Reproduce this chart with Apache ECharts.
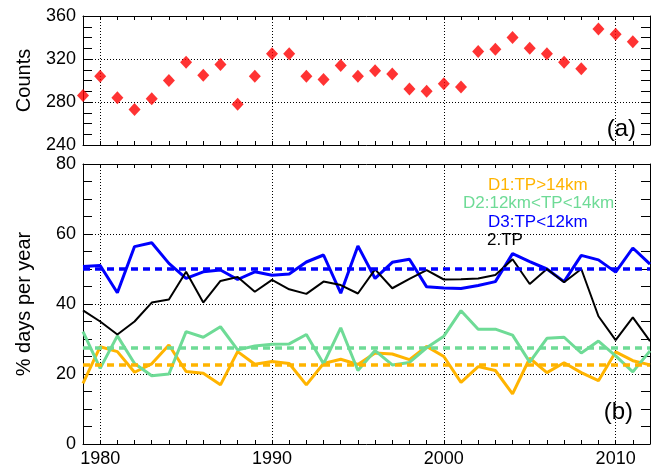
<!DOCTYPE html>
<html>
<head>
<meta charset="utf-8">
<script src="https://cdn.jsdelivr.net/npm/echarts@6/dist/echarts.min.js"></script>
<style>
  html, body { margin: 0; padding: 0; background: #fff; }
  #chart { width: 654px; height: 468px; }
</style>
</head>
<body>
<div id="chart"></div>
<script>
// Years on the shared time axis
const years = [1979, 1980, 1981, 1982, 1983, 1984, 1985, 1986, 1987, 1988,
               1989, 1990, 1991, 1992, 1993, 1994, 1995, 1996, 1997, 1998,
               1999, 2000, 2001, 2002, 2003, 2004, 2005, 2006, 2007, 2008,
               2009, 2010, 2011, 2012];

// Panel (a): yearly counts (no value for 2012)
const counts = [286, 304, 284, 273, 283, 300, 317, 305, 315, 278,
                304, 325, 325, 304, 301, 314, 304, 309, 306, 292,
                290, 297, 294, 327, 329, 340, 330, 325, 317, 311,
                348, 343, 336, null];

// Panel (b): percentage of days per year
const d1 = [17.3, 27.8, 26.4, 20.5, 22.9, 28.3, 20.7, 20.2, 16.9, 26.4,
            22.8, 23.6, 23.0, 16.9, 23.0, 24.2, 22.7, 26.0, 25.7, 24.1,
            27.9, 25.0, 17.6, 22.1, 21.0, 14.3, 24.5, 20.4, 23.2, 20.4,
            18.1, 26.3, 23.8, 22.6];
const d2 = [32.1, 21.6, 30.9, 23.0, 19.5, 20.0, 32.1, 30.5, 33.5, 26.9,
            28.0, 28.5, 28.6, 31.3, 22.9, 33.2, 21.0, 26.7, 22.6, 23.3,
            27.5, 30.8, 38.1, 32.8, 32.8, 31.1, 23.4, 30.2, 30.5, 26.0,
            29.4, 25.2, 20.6, 26.6];
const d3 = [50.7, 51.0, 43.2, 56.4, 57.5, 51.6, 47.3, 49.2, 49.7, 47.0,
            49.2, 48.2, 48.6, 52.0, 54.0, 43.1, 56.6, 47.3, 51.9, 52.8,
            44.9, 44.6, 44.4, 45.3, 46.4, 54.4, 52.1, 50.0, 46.4, 53.9,
            52.6, 49.1, 56.0, 51.4];
const tp2 = [38.2, 35.0, 31.3, 35.0, 40.4, 41.3, 49.2, 40.4, 46.6, 47.7,
             43.5, 46.9, 44.2, 42.9, 46.4, 45.4, 43.0, 49.9, 44.5, 47.2,
             49.7, 47.0, 47.1, 47.3, 48.3, 52.8, 45.7, 50.0, 46.2, 50.0,
             36.5, 29.7, 36.2, 29.4];

// Long-term means drawn as dashed reference lines
const d1Mean = 22.6;
const d2Mean = 27.6;
const d3Mean = 50.0;

// Tick labels
const yearTicks = [1980, 1990, 2000, 2010];
const countTicks = [240, 280, 320, 360];
const pctTicks = [0, 20, 40, 60, 80];

const names = ['D1:TP>14km', 'D2:12km<TP<14km', 'D3:TP<12km', '2.TP'];
const colors = ['#FFB400', '#6EDB96', '#0000FF', '#000000'];

const FONT = "'Liberation Sans', Arial, Helvetica, sans-serif";
const gridDots = { color: '#000', width: 1, type: [1, 2] };
const isDecade = (i, v) => yearTicks.indexOf(Number(v)) >= 0;

function xAxisDef(gridIndex, position, withLabels, withSplit) {
  return {
    gridIndex, type: 'category', data: years, boundaryGap: false, position,
    axisLine: { show: true, onZero: false, lineStyle: { color: '#000', width: 1 } },
    axisTick: { show: true, inside: true, length: 4, interval: 0, lineStyle: { color: '#000' } },
    axisLabel: {
      show: withLabels, interval: isDecade, color: '#000',
      fontFamily: FONT, fontSize: 18, margin: 6
    },
    splitLine: { show: withSplit, interval: isDecade, lineStyle: gridDots }
  };
}

function yAxisDef(gridIndex, position, ticks, withLabels) {
  const step = ticks[1] - ticks[0];
  return {
    gridIndex, type: 'value', position,
    min: ticks[0], max: ticks[ticks.length - 1], interval: step,
    axisLine: { show: true, lineStyle: { color: '#000', width: 1 } },
    axisTick: { show: true, inside: true, length: 9, lineStyle: { color: '#000' } },
    minorTick: { show: true, splitNumber: 4, length: 9, lineStyle: { color: '#000' } },
    axisLabel: {
      show: withLabels, color: '#000', fontFamily: FONT, fontSize: 18, margin: 7,
      formatter: v => (ticks.indexOf(v) >= 0 ? String(v) : '')
    },
    splitLine: { show: withLabels, lineStyle: gridDots }
  };
}

function meanLine(value, color) {
  return {
    silent: true, symbol: 'none', label: { show: false },
    lineStyle: { color, width: 3.5, type: [7, 5] },
    data: [{ yAxis: value }]
  };
}

function lineSeries(name, data, color, width, mean) {
  const s = {
    name, type: 'line', xAxisIndex: 2, yAxisIndex: 2, data,
    symbol: 'none', lineStyle: { color, width }, itemStyle: { color }
  };
  if (mean !== undefined) s.markLine = meanLine(mean, color);
  return s;
}

const chart = echarts.init(document.getElementById('chart'), null, { renderer: 'canvas' });

const legendY = [185, 203.5, 222, 240];
const legendX = [488, 463, 488, 487];

chart.setOption({
  animation: false,
  backgroundColor: '#fff',
  grid: [
    { left: 83, top: 16, width: 567, height: 129 },
    { left: 83, top: 164, width: 567, height: 280 }
  ],
  xAxis: [
    xAxisDef(0, 'bottom', false, true),
    xAxisDef(0, 'top', false, false),
    xAxisDef(1, 'bottom', true, true),
    xAxisDef(1, 'top', false, false)
  ],
  yAxis: [
    yAxisDef(0, 'left', countTicks, true),
    yAxisDef(0, 'right', countTicks, false),
    yAxisDef(1, 'left', pctTicks, true),
    yAxisDef(1, 'right', pctTicks, false)
  ],
  series: [
    {
      name: 'Counts', type: 'scatter', xAxisIndex: 0, yAxisIndex: 0,
      data: counts, symbol: 'diamond', symbolSize: [12, 13],
      itemStyle: { color: '#FF0000' }
    },
    lineSeries(names[0], d1, colors[0], 3, d1Mean),
    lineSeries(names[1], d2, colors[1], 3, d2Mean),
    lineSeries(names[2], d3, colors[2], 3, d3Mean),
    lineSeries(names[3], tp2, colors[3], 2)
  ],
  graphic: [
    {
      type: 'text', x: 24, y: 80.5, rotation: Math.PI / 2,
      style: { text: 'Counts', fill: '#000', font: '20px ' + FONT,
               align: 'center', verticalAlign: 'middle',
               textAlign: 'center', textVerticalAlign: 'middle' }
    },
    {
      type: 'text', x: 24, y: 304, rotation: Math.PI / 2,
      style: { text: '% days per year', fill: '#000', font: '20px ' + FONT,
               align: 'center', verticalAlign: 'middle',
               textAlign: 'center', textVerticalAlign: 'middle' }
    },
    {
      type: 'text', x: 636, y: 129,
      style: { text: '(a)', fill: '#000', font: '24px ' + FONT,
               align: 'right', verticalAlign: 'middle',
               textAlign: 'right', textVerticalAlign: 'middle' }
    },
    {
      type: 'text', x: 633, y: 412,
      style: { text: '(b)', fill: '#000', font: '24px ' + FONT,
               align: 'right', verticalAlign: 'middle',
               textAlign: 'right', textVerticalAlign: 'middle' }
    }
  ].concat(names.map((n, i) => ({
    type: 'text', x: legendX[i], y: legendY[i],
    style: { text: n, fill: colors[i], font: '17px ' + FONT,
             align: 'left', verticalAlign: 'middle',
             textAlign: 'left', textVerticalAlign: 'middle' }
  })))
});
</script>
</body>
</html>
